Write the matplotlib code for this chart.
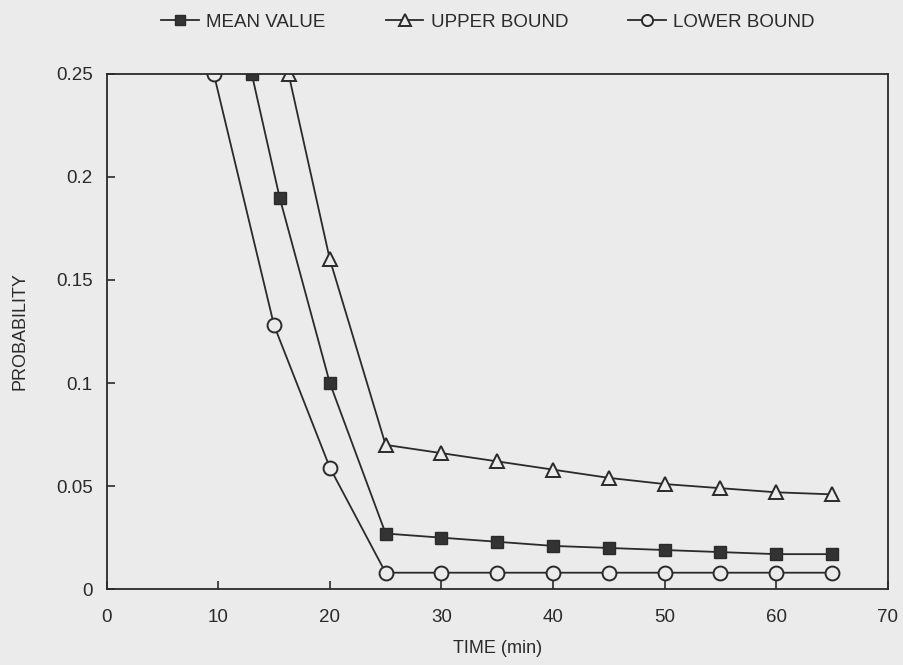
import numpy as np
from matplotlib import pyplot as plt

plt.rcParams['font.family'] = ['Liberation Sans', 'DejaVu Sans']

# data
t_mean = [13, 15.5, 20, 25, 30, 35, 40, 45, 50, 55, 60, 65]
p_mean = [0.25, 0.19, 0.1, 0.027, 0.025, 0.023, 0.021, 0.02, 0.019, 0.018, 0.017, 0.017]

t_upper = [16.3, 20, 25, 30, 35, 40, 45, 50, 55, 60, 65]
p_upper = [0.25, 0.16, 0.07, 0.066, 0.062, 0.058, 0.054, 0.051, 0.049, 0.047, 0.046]

t_lower = [9.6, 15, 20, 25, 30, 35, 40, 45, 50, 55, 60, 65]
p_lower = [0.25, 0.128, 0.059, 0.008, 0.008, 0.008, 0.008, 0.008, 0.008, 0.008, 0.008, 0.008]

xticks = [0, 10, 20, 30, 40, 50, 60, 70]
yticks = [0, 0.05, 0.1, 0.15, 0.2, 0.25]
ylabels = ['0', '0.05', '0.1', '0.15', '0.2', '0.25']

bg = '#ebebeb'
ink = '#2a2a2a'

fig = plt.figure(figsize=(9.04, 6.65), dpi=100, facecolor=bg)
ax = fig.add_axes([0.118, 0.114, 0.864, 0.775], facecolor=bg)

ax.plot(t_mean, p_mean, color=ink, lw=1.3, marker='s', ms=9,
        mfc='#333333', mec=ink, label='MEAN VALUE')
ax.plot(t_upper, p_upper, color=ink, lw=1.3, marker='^', ms=10,
        mfc=bg, mec=ink, mew=1.4, label='UPPER BOUND')
ax.plot(t_lower, p_lower, color=ink, lw=1.3, marker='o', ms=10,
        mfc=bg, mec=ink, mew=1.4, label='LOWER BOUND')

ax.set_xlim(0, 70)
ax.set_ylim(0, 0.25)
ax.set_xticks(xticks)
ax.set_yticks(yticks)
ax.set_yticklabels(ylabels)
ax.tick_params(direction='in', length=6, width=1.2, colors=ink,
               labelsize=13.5, pad=10)
ax.tick_params(axis='x', pad=14)
for s in ax.spines.values():
    s.set_color(ink)
    s.set_linewidth(1.3)

ax.set_xlabel('TIME (min)', fontsize=13, color=ink, labelpad=10)
ax.set_ylabel('PROBABILITY', fontsize=13, color=ink, labelpad=20)

leg = fig.legend(loc='upper center', bbox_to_anchor=(0.54, 1.005), ncol=3,
                 frameon=False, fontsize=13.5, columnspacing=3.2,
                 handlelength=2.0, handletextpad=0.4, markerscale=0.8)
for txt in leg.get_texts():
    txt.set_color(ink)

fig.savefig('out.png', dpi=100, facecolor=bg)
